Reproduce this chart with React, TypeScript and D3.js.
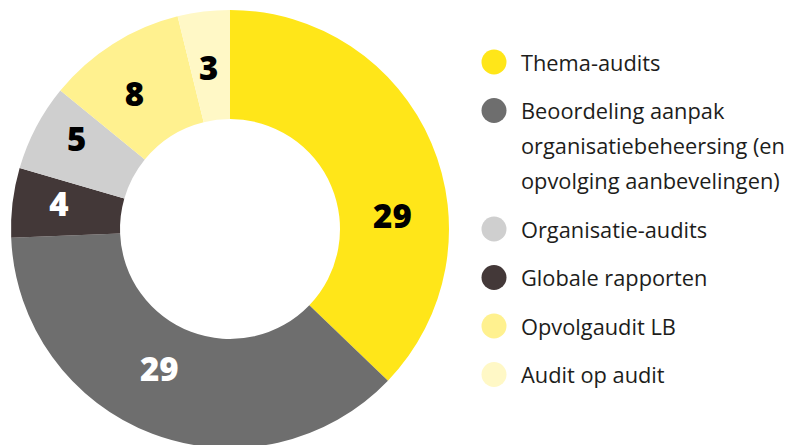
import React from "react";
import * as d3 from "d3";

const categories = [
  "Thema-audits",
  "Beoordeling aanpak organisatiebeheersing (en opvolging aanbevelingen)",
  "Globale rapporten",
  "Organisatie-audits",
  "Opvolgaudit LB",
  "Audit op audit",
];
const values = [29, 29, 4, 5, 8, 3];
const colors = ["#FFE619", "#6E6E6E", "#433838", "#CFCFCF", "#FFF18F", "#FFF8C6"];
const labelColors = ["#000", "#fff", "#fff", "#000", "#000", "#000"];

const legendOrder = [0, 1, 3, 2, 4, 5];
const legendLines: Record<number, string[]> = {
  0: ["Thema-audits"],
  1: ["Beoordeling aanpak", "organisatiebeheersing (en", "opvolging aanbevelingen)"],
  2: ["Globale rapporten"],
  3: ["Organisatie-audits"],
  4: ["Opvolgaudit LB"],
  5: ["Audit op audit"],
};

// layout-only label nudges (angle offset in radians, radius offset in px)
const labelAngleShift = [0.32, 0.108, 0.03, 0.05, -0.05, -0.01];
const labelRadiusShift = [-3, -10, 7, 12, 0, -3];

export default function App() {
  const W = 787, H = 445;
  const cx = 230, cy = 229, rOuter = 219, rInner = 110;
  const pie = d3.pie<number>().sort(null).value((d) => d)(values);
  const arc = d3.arc<d3.PieArcDatum<number>>().innerRadius(rInner).outerRadius(rOuter);
  const labelR = 166;

  const fontFam = "'Open Sans', 'Noto Sans', sans-serif";

  let y = 62;
  const legendItems: { idx: number; y: number }[] = [];
  legendOrder.forEach((idx) => {
    legendItems.push({ idx, y });
    y += 48.5 + (legendLines[idx].length - 1) * 35;
  });

  return (
    <div style={{ position: "absolute", left: 0, top: 0 }}>
      <svg width={W} height={H} style={{ display: "block" }}>
        <rect width={W} height={H} fill="#fff" />
        <g transform={`translate(${cx},${cy})`}>
          {pie.map((p, i) => (
            <path key={i} d={arc(p) || ""} fill={colors[i]} />
          ))}
          {pie.map((p, i) => {
            const a = (p.startAngle + p.endAngle) / 2 + labelAngleShift[i];
            const r = labelR + labelRadiusShift[i];
            const x = Math.sin(a) * r;
            const yy = -Math.cos(a) * r;
            return (
              <text
                key={i}
                x={x}
                y={yy}
                textAnchor="middle"
                dominantBaseline="central"
                fontFamily={fontFam}
                fontWeight={800}
                fontSize={33}
                fill={labelColors[i]}
              >
                {values[i]}
              </text>
            );
          })}
        </g>
        <g>
          {legendItems.map(({ idx, y }) => (
            <g key={idx}>
              <circle cx={494} cy={y} r={12.5} fill={colors[idx]} />
              {legendLines[idx].map((line, j) => (
                <text
                  key={j}
                  x={521}
                  y={y + j * 35}
                  dominantBaseline="central"
                  fontFamily={fontFam}
                  fontSize={21.8}
                  fill="#1d1d1b"
                >
                  {line}
                </text>
              ))}
            </g>
          ))}
        </g>
      </svg>
    </div>
  );
}
